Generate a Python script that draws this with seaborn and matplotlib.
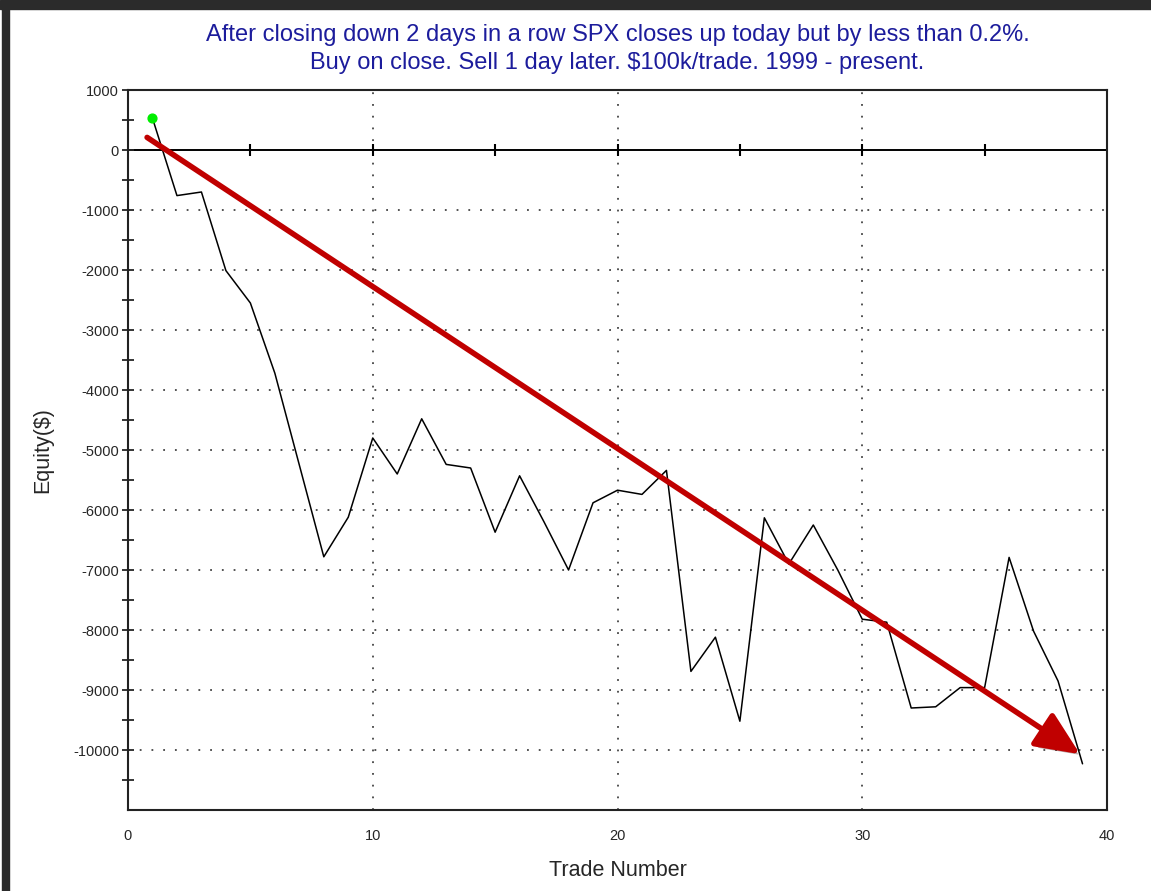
import numpy as np
import pandas as pd
import matplotlib.pyplot as plt
import matplotlib.patheffects as pe
from matplotlib.patches import Rectangle
import seaborn as sns

# Dados
trade_num = list(range(1, 40))
equity = [530, -760, -700, -2010, -2550, -3720, -5250, -6780, -6120, -4800,
          -5400, -4480, -5240, -5300, -6370, -5430, -6200, -7000, -5880, -5670,
          -5740, -5340, -8690, -8120, -9520, -6130, -6900, -6250, -7000, -7820,
          -7870, -9300, -9280, -8960, -8960, -6790, -8020, -8850, -10230]
title_text = ("After closing down 2 days in a row SPX closes up today but by less than 0.2%.\n"
              "Buy on close. Sell 1 day later. $100k/trade. 1999 - present.")
arrow_start = (0.78, 210)
arrow_end = (38.9, -10070)

df = pd.DataFrame({"trade": trade_num, "equity": equity})

sns.set_style("white")
plt.rcParams["font.family"] = ["Liberation Sans", "DejaVu Sans"]
plt.rcParams["axes.unicode_minus"] = False

fig = plt.figure(figsize=(11.51, 8.91), dpi=100)
ax = fig.add_axes([128 / 1151, 1 - 810 / 891, (1107 - 128) / 1151, (810 - 90) / 891])

ymin, ymax = -11000, 1000
ax.set_xlim(0, 40)
ax.set_ylim(ymin, ymax)

# grade pontilhada
for xv in [10, 20, 30]:
    ax.axvline(xv, color="#444444", lw=1.3, ls=(0, (1, 5.5)), zorder=0)
for yv in range(-1000, -10001, -1000):
    ax.axhline(yv, color="#444444", lw=1.3, ls=(0, (1, 5.5)), zorder=0)

sns.lineplot(data=df, x="trade", y="equity", color="black", lw=1.1, ax=ax, zorder=3)
ax.scatter(df["trade"].iloc[:1], df["equity"].iloc[:1], s=40, color="#00ee00", zorder=4)

# seta vermelha
ax.annotate("", xy=arrow_end, xytext=arrow_start,
            arrowprops=dict(arrowstyle="-|>,head_length=0.9,head_width=0.4",
                            color="#c00000", lw=4, mutation_scale=30, shrinkA=0, shrinkB=0,
                            path_effects=[pe.SimplePatchShadow(offset=(3, -3), alpha=0.35),
                                          pe.Normal()]),
            zorder=5)

# eixo y
ax.set_yticks(range(-10000, 1001, 1000))
ax.set_yticks(range(-10500, 1001, 500), minor=True)
ax.tick_params(axis="y", which="both", direction="inout", length=9, width=1.3,
               labelsize=10.5, left=True, pad=2)

# eixo x
ax.set_xticks([0, 10, 20, 30, 40])
ax.tick_params(axis="x", which="both", length=0, labelsize=10.5, pad=14)

for side in ["left", "bottom", "right", "top"]:
    ax.spines[side].set_visible(True)
    ax.spines[side].set_linewidth(1.5)
    ax.spines[side].set_color("#222222")

# linha do zero com marcas a cada 5
zero_loc = (0 - ymin) / (ymax - ymin)
sec = ax.secondary_xaxis(zero_loc)
sec.set_xticks(range(5, 40, 5))
sec.set_xticklabels([])
sec.tick_params(direction="inout", length=8, width=1.5, color="black")
for s in ["bottom", "top"]:
    sec.spines[s].set_linewidth(1.4)
    sec.spines[s].set_color("black")

ax.set_xlabel("Trade Number", fontsize=15.5, labelpad=12)
ax.set_ylabel("Equity($)", fontsize=15.5, labelpad=14)
ax.set_title(title_text, fontsize=17, color="#1c1c9c", pad=15, linespacing=1.38)

# moldura escura à esquerda e no topo
fig.patches.append(Rectangle((0, 1 - 9 / 891), 1, 9 / 891, transform=fig.transFigure,
                             color="#2b2b2b", zorder=10))
fig.patches.append(Rectangle((2 / 1151, 0), 7 / 1151, 1, transform=fig.transFigure,
                             color="#2b2b2b", zorder=10))

fig.savefig("out.png", dpi=100)
